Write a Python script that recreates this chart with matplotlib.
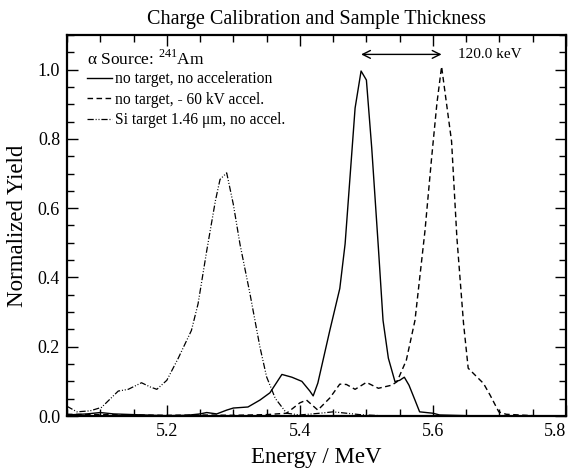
import matplotlib
matplotlib.use("Agg")
import matplotlib.pyplot as plt
from matplotlib.ticker import MultipleLocator

plt.rcParams['font.family'] = ['Liberation Serif', 'DejaVu Serif']
plt.rcParams['mathtext.fontset'] = 'custom'
plt.rcParams['mathtext.rm'] = 'Liberation Serif'

# --- data ---
e_solid = [5.05, 5.08, 5.10, 5.12, 5.15, 5.18, 5.20, 5.23, 5.25, 5.26, 5.275, 5.29,
           5.30, 5.322, 5.34, 5.355, 5.373, 5.388, 5.403, 5.415, 5.42, 5.427, 5.445,
           5.46, 5.468, 5.483, 5.492, 5.50, 5.508, 5.518, 5.525, 5.533, 5.543, 5.55,
           5.557, 5.564, 5.573, 5.58, 5.60, 5.61, 5.65, 5.70, 5.75, 5.80]
y_solid = [0.003, 0.006, 0.010, 0.006, 0.004, 0.002, 0.001, 0.002, 0.006, 0.010, 0.006, 0.017,
           0.023, 0.026, 0.046, 0.067, 0.120, 0.112, 0.100, 0.072, 0.058, 0.095, 0.247,
           0.368, 0.497, 0.889, 0.996, 0.970, 0.774, 0.486, 0.276, 0.167, 0.099, 0.103,
           0.112, 0.089, 0.046, 0.012, 0.008, 0.003, 0.001, 0.0, 0.0, 0.0]

e_dash = [5.05, 5.10, 5.15, 5.20, 5.25, 5.30, 5.35, 5.38, 5.40, 5.41, 5.427, 5.445,
          5.46, 5.47, 5.483, 5.50, 5.518, 5.538, 5.546, 5.56, 5.573, 5.588, 5.598,
          5.606, 5.613, 5.62, 5.628, 5.636, 5.646, 5.653, 5.666, 5.676, 5.686, 5.699,
          5.71, 5.75, 5.80]
y_dash = [0.005, 0.004, 0.003, 0.002, 0.003, 0.002, 0.004, 0.008, 0.038, 0.046, 0.017, 0.052,
          0.092, 0.091, 0.077, 0.097, 0.080, 0.089, 0.099, 0.161, 0.276, 0.534, 0.745,
          0.903, 1.009, 0.908, 0.793, 0.515, 0.267, 0.138, 0.113, 0.094, 0.060, 0.012,
          0.005, 0.001, 0.0]

e_si = [5.05, 5.065, 5.085, 5.102, 5.127, 5.142, 5.162, 5.175, 5.185, 5.20, 5.217,
        5.237, 5.247, 5.26, 5.273, 5.28, 5.29, 5.30, 5.31, 5.325, 5.34, 5.35, 5.363,
        5.38, 5.40, 5.43, 5.45, 5.47, 5.49, 5.52, 5.60, 5.70, 5.80]
y_si = [0.028, 0.012, 0.015, 0.025, 0.072, 0.077, 0.096, 0.084, 0.077, 0.103, 0.166,
        0.247, 0.324, 0.477, 0.621, 0.683, 0.702, 0.611, 0.496, 0.353, 0.199, 0.113, 0.051,
        0.008, 0.003, 0.008, 0.012, 0.008, 0.004, 0.001, 0.0, 0.0, 0.0]

labels = ["no target, no acceleration", "no target, - 60 kV accel.",
          "Si target 1.46 \u03bcm, no accel."]
legend_title = "\u03b1 Source: $^{241}$Am"
peak_a, peak_b = 5.492, 5.613
arrow_y = 1.044
shift_label = "120.0 keV"

fig = plt.figure(figsize=(5.69, 4.69), dpi=100)
ax = fig.add_axes([67/569, 53/469, 499/569, 381/469])

ax.plot(e_solid, y_solid, color='black', lw=1.0, ls='-', label=labels[0])
ax.plot(e_dash, y_dash, color='black', lw=1.0, ls=(0, (4, 2.5)), label=labels[1])
ax.plot(e_si, y_si, color='black', lw=0.9, ls=(0, (5, 1.5, 0.8, 1.5, 0.8, 1.5)), label=labels[2])

ax.set_xlim(5.05, 5.8)
ax.set_ylim(0, 1.1)
ax.xaxis.set_major_locator(MultipleLocator(0.2))
ax.xaxis.set_minor_locator(MultipleLocator(0.05))
ax.yaxis.set_major_locator(MultipleLocator(0.2))
ax.yaxis.set_minor_locator(MultipleLocator(0.05))
ax.xaxis.set_major_formatter(plt.FuncFormatter(lambda v, p: f"{v:.1f}"))
ax.yaxis.set_major_formatter(plt.FuncFormatter(lambda v, p: f"{v:.1f}"))
ax.tick_params(which='both', direction='in', top=True, right=True, labelsize=13, color='black')
ax.tick_params(which='major', length=8, width=1.0, pad=5)
ax.tick_params(which='minor', length=5, width=1.0)
for s in ax.spines.values():
    s.set_linewidth(1.6)

ax.set_xlabel("Energy / MeV", fontsize=16.5, labelpad=5)
ax.set_ylabel("Normalized Yield", fontsize=16.5, labelpad=7)
ax.set_title("Charge Calibration and Sample Thickness", fontsize=14.5, pad=8)

leg = ax.legend(loc='upper left', title=legend_title, frameon=False, fontsize=11.2,
                title_fontsize=12.5, handlelength=1.6, handletextpad=0.2,
                labelspacing=0.3, borderaxespad=0.5, bbox_to_anchor=(0.012, 1.0))
leg._legend_box.align = "left"
leg._legend_box.sep = 2

ax.annotate("", xy=(peak_a, arrow_y), xytext=(peak_b, arrow_y),
            arrowprops=dict(arrowstyle='<->', color='black', lw=1.0,
                            shrinkA=0, shrinkB=0, mutation_scale=14))
ax.text(5.638, arrow_y, shift_label, fontsize=11, va='center', ha='left')

fig.canvas.draw()
xt = ax.get_xticklabels()
if xt:
    xt[-1].set_horizontalalignment('right')
    xt[-1].set_x(xt[-1].get_position()[0])
# shift last tick label left so it stays inside the figure
last = [t for t in ax.xaxis.get_major_ticks() if abs(t.get_loc() - 5.8) < 1e-6]
for t in last:
    t.label1.set_horizontalalignment('right')

fig.savefig("out.png", dpi=100)
